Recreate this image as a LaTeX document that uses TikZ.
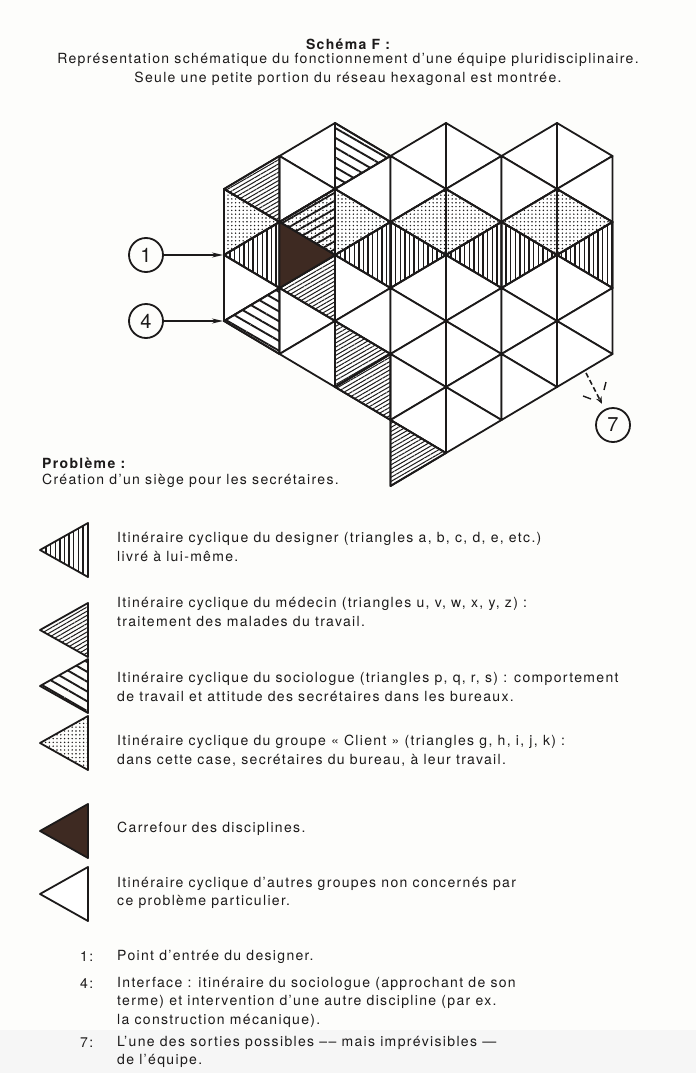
\documentclass[tikz,border=0pt]{standalone}
\usepackage{fontspec}
\setmainfont{TeX Gyre Heros}[LetterSpace=9.5]
\usetikzlibrary{arrows.meta,patterns.meta,positioning}
\definecolor{ink}{RGB}{28,26,26}
\definecolor{brownfill}{RGB}{62,42,34}
\definecolor{paper}{RGB}{253,253,251}

% one triangle of the network: strip #2 (between columns #2 and #2+1),
% its middle vertex on level #3; the apex sits on whichever column has that level
\newcommand\netcell[3]{%
  \pgfmathtruncatemacro\ca{#2+1}%
  \pgfmathtruncatemacro\up{#3-1}%
  \pgfmathtruncatemacro\dn{#3+1}%
  \pgfmathtruncatemacro\side{mod(#2+#3,2)}%
  \ifnum\side=0
    \path[#1] (p#2-#3) -- (p\ca-\up) -- (p\ca-\dn) -- cycle;
  \else
    \path[#1] (p\ca-#3) -- (p#2-\up) -- (p#2-\dn) -- cycle;
  \fi}

\begin{document}
\begin{tikzpicture}[x=1pt,y=-1pt,
  net/.style={draw=ink,line width=1.8pt,line join=round},
  autre/.style={net,fill=white},
  designer/.style={net,pattern={Lines[angle=90,distance=4.6pt,line width=1.4pt]},pattern color=ink},
  medecin/.style={net,pattern={Lines[angle=30,distance=3.6pt,line width=1pt]},pattern color=ink},
  sociologue/.style={net,pattern={Lines[angle=-30,distance=8.5pt,line width=1.9pt]},pattern color=ink},
  client/.style={net,pattern={Dots[distance=3.8pt,radius=0.8pt]},pattern color=ink},
  interface/.style={net,pattern={Lines[angle=30,distance=7pt,line width=1.8pt]},pattern color=ink},
  carrefour/.style={net,fill=brownfill},
  txt/.style={inner sep=0pt,text=ink,font=\fontsize{14}{18.5}\selectfont},
  legtext/.style={txt,anchor=west,align=left},
  numcircle/.style={circle,draw=ink,line width=1.8pt,minimum size=34pt,inner sep=0pt,
    text=ink,font=\fontsize{20}{20}\selectfont},
  entry/.style={draw=ink,line width=1.6pt,-{Stealth[length=11pt,width=5pt]},shorten >=1pt},
  exitarrow/.style={draw=ink,line width=1.6pt,dash pattern=on 5pt off 3pt,
    -{Stealth[length=7pt,width=6pt]},shorten >=6pt}]
\useasboundingbox (0,0) rectangle (696,1073);
\fill[paper] (0,0) rectangle (696,1073);
\fill[gray!7] (0,1030) rectangle (696,1073);

% title
\node[txt,font=\fontsize{14}{18.5}\selectfont\bfseries] (title) at (348,44) {Schéma F :};
\node[txt,align=center,below=4pt of title] (subtitle)
  {Représentation schématique du fonctionnement d'une équipe pluridisciplinaire.\\
   Seule une petite portion du réseau hexagonal est montrée.};

% lattice points: column i, level k
\foreach \i in {0,...,7}
  \foreach \k in {0,...,11}
    \coordinate (p\i-\k) at ({224+55.5*\i},{123+33*\k});

% the whole piece of network, strip by strip
\foreach \i/\lo/\hi in {0/2/6,1/1/7,2/1/8,3/1/10,4/1/9,5/1/8,6/1/7}
  \foreach \m in {\lo,...,\hi}
    \netcell{autre}{\i}{\m};
% the itineraries
\foreach \i in {0,2,3,4,5,6} \netcell{designer}{\i}{4};
\foreach \i in {0,1,2,3,4,5,6} \netcell{client}{\i}{3};
\netcell{interface}{1}{3};
\foreach \i/\m in {0/2,1/5,2/7,2/8,3/10} \netcell{medecin}{\i}{\m};
\foreach \i/\m in {2/1,0/6} \netcell{sociologue}{\i}{\m};
\netcell{carrefour}{1}{4};

% entry, interface and exit marks
\node[numcircle] (one) at (146,255) {1};
\node[numcircle] (four) at (146,321) {4};
\node[numcircle] (seven) at (613,425) {7};
\draw[entry] (one) -- (p0-4);
\draw[entry] (four) -- (p0-6);
\coordinate (exitstart) at (586,373);
\draw[exitarrow] (exitstart) -- (seven);
\draw[ink,line width=1.4pt] (583,396) -- (591,399);
\draw[ink,line width=1.4pt] (606,382) -- (604,390);

% problem
\node[txt,anchor=west,font=\fontsize{14}{18.5}\selectfont\bfseries] (probleme) at (42,463) {Problème :};
\node[legtext] (siege) at (42,481) {Création d'un siège pour les secrétaires.};

% legend
\foreach \sty/\yc in {designer/550,medecin/630,sociologue/686,client/743,carrefour/831,autre/894}
  \path[\sty] (40,\yc) -- (88,{\yc-27}) -- (88,{\yc+27}) -- cycle;
\node[legtext] (designertext) at (117,547)
  {Itinéraire cyclique du designer (triangles a, b, c, d, e, etc.)\\livré à lui-même.};
\node[legtext] (medecintext) at (117,612)
  {Itinéraire cyclique du médecin (triangles u, v, w, x, y, z) :\\traitement des malades du travail.};
\node[legtext] (sociotext) at (117,687)
  {Itinéraire cyclique du sociologue (triangles p, q, r, s) : comportement\\de travail et attitude des secrétaires dans les bureaux.};
\node[legtext] (clienttext) at (117,751)
  {Itinéraire cyclique du groupe « Client » (triangles g, h, i, j, k) :\\dans cette case, secrétaires du bureau, à leur travail.};
\node[legtext] (carrefourtext) at (117,829) {Carrefour des disciplines.};
\node[legtext] (autretext) at (117,893)
  {Itinéraire cyclique d'autres groupes non concernés par\\ce problème particulier.};

% notes
\node[legtext] (n1) at (80,957) {1:};
\node[legtext] (n1text) at (117,957) {Point d'entrée du designer.};
\node[legtext] (n4) at (80,984) {4:};
\node[legtext] (n4text) at (117,1002)
  {Interface : itinéraire du sociologue (approchant de son\\terme) et intervention d'une autre discipline (par ex.\\la construction mécanique).};
\node[legtext] (n7) at (80,1043) {7:};
\node[legtext] (n7text) at (117,1052)
  {L'une des sorties possibles –– mais imprévisibles —\\de l'équipe.};
\end{tikzpicture}
\end{document}
